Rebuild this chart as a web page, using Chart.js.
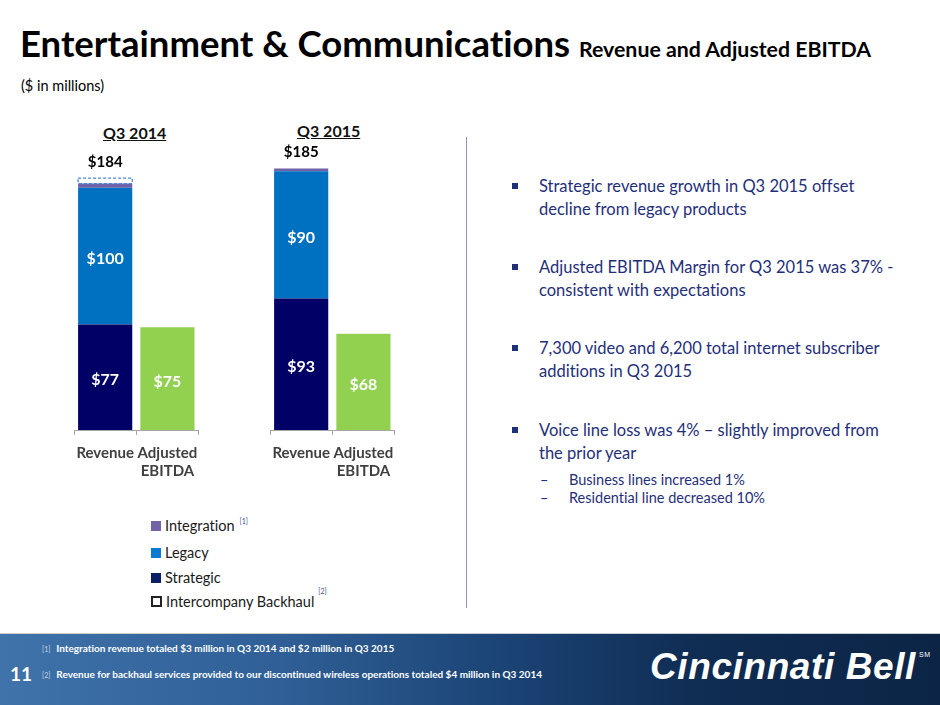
<!DOCTYPE html>
<html>
<head>
<meta charset="utf-8">
<script src="https://cdn.jsdelivr.net/npm/chart.js@4.4.0/dist/chart.umd.min.js"></script>
<style>
    body { margin: 0; width: 940px; height: 705px; overflow: hidden; background: #fff; font-family: Lato, sans-serif; position: relative; font-variant-ligatures: none; }
    .abs { position: absolute; }
    .title { left: 20px; top: 21px; font-weight: bold; font-size: 36.5px; color: #000; white-space: nowrap; }
    .title small { font-size: 21.3px; margin-left: 0px; }
    .units { left: 21px; top: 77px; font-size: 14.5px; color: #000; }
    .period { font-weight: bold; font-size: 16px; text-decoration: underline; color: #111; }
    .divider { left: 466px; top: 137px; width: 1px; height: 471px; background: #8a96b4; }
    .bullet { left: 539px; width: 390px; font-size: 16.5px; line-height: 23px; color: #1f2f7a; white-space: nowrap; }
    .bullet::before { content: ''; position: absolute; left: -27px; top: 8px; width: 6px; height: 6px; background: #1f2f7a; }
    .sub { left: 569px; font-size: 14.5px; line-height: 18px; color: #1f2f7a; white-space: nowrap; }
    .dash { position: absolute; left: -29px; }
    .legend { left: 151px; font-size: 14.5px; line-height: 18px; color: #1a1a1a; white-space: nowrap; }
    .legend i { display: inline-block; width: 10px; height: 10px; margin-right: 4px; }
    .legend sup { font-size: 7px; line-height: 0; vertical-align: baseline; position: relative; margin-left: 5px; color: #3a4f8a; }
    .footer { left: 0; top: 633px; width: 940px; height: 72px; border-top: 1px solid #c9cdd3;
        background: linear-gradient(90deg, #3f73aa 0%, #2f5f96 30%, #1a4273 55%, #0f2c52 75%, #0c2546 100%); }
    .foot { color: #fff; font-weight: bold; font-size: 10px; white-space: nowrap; }
    .foot span { font-size: 7px; color: #c8d4e6; font-weight: normal; margin-right: 6px; }
    .logo { left: 650px; top: 646px; color: #fff; font-family: 'Liberation Sans', Arial, sans-serif; font-weight: bold; font-style: italic; font-size: 37px; letter-spacing: 0.6px; white-space: nowrap; }
    .logo sup { font-size: 7px; font-style: normal; font-weight: normal; vertical-align: 22px; margin-left: 3px; }
</style>
</head>
<body>

<div class="abs title">Entertainment &amp; Communications <small>Revenue and Adjusted EBITDA</small></div>
<div class="abs units">($ in millions)</div>

<div class="abs period" style="left:103px; top:123px;">Q3 2014</div>
<div class="abs period" style="left:297px; top:121px;">Q3 2015</div>

<canvas id="chart2014" class="abs" style="left:67px; top:130px;" width="140" height="359"></canvas>
<canvas id="chart2015" class="abs" style="left:263px; top:130px;" width="140" height="359"></canvas>

<div class="abs legend" style="top:517px;"><i style="background:#7463a6"></i>Integration<sup style="top:-7px">[1]</sup></div>
<div class="abs legend" style="top:544px;"><i style="background:#0a7bd0"></i>Legacy</div>
<div class="abs legend" style="top:569px;"><i style="background:#0b1f66"></i>Strategic</div>
<div class="abs legend" style="top:593px;"><i style="border:2px dashed #222; width:7px; height:7px;"></i>Intercompany Backhaul<sup style="top:-13px; margin-left:4px">[2]</sup></div>

<div class="abs divider"></div>

<div class="abs bullet" style="top:175px;">Strategic revenue growth in Q3 2015 offset<br>decline from legacy products</div>
<div class="abs bullet" style="top:256px;">Adjusted EBITDA Margin for Q3 2015 was 37% -<br>consistent with expectations</div>
<div class="abs bullet" style="top:337px;">7,300 video and 6,200 total internet subscriber<br>additions in Q3 2015</div>
<div class="abs bullet" style="top:419px;">Voice line loss was 4% – slightly improved from<br>the prior year</div>
<div class="abs sub" style="top:471px;"><span class="dash">–</span>Business lines increased 1%</div>
<div class="abs sub" style="top:489px;"><span class="dash">–</span>Residential line decreased 10%</div>

<div class="abs footer"></div>
<div class="abs foot" style="left:42px; top:642px;"><span>[1]</span>Integration revenue totaled $3 million in Q3 2014 and $2 million in Q3 2015</div>
<div class="abs foot" style="left:42px; top:668px;"><span>[2]</span>Revenue for backhaul services provided to our discontinued wireless operations totaled $4 million in Q3 2014</div>
<div class="abs" style="left:10px; top:662px; color:#fff; font-weight:bold; font-size:19px;">11</div>
<div class="abs logo">Cincinnati Bell<sup>SM</sup></div>

<script>
// --- Data ---
const categories = ['Revenue', ['Adjusted', 'EBITDA']];

const strategic2014 = [77, null];
const legacy2014 = [100, null];
const integration2014 = [3, null];
const backhaul2014 = [4, null];
const ebitda2014 = [null, 75];

const strategic2015 = [93, null];
const legacy2015 = [90, null];
const integration2015 = [2, null];
const backhaul2015 = [null, null];
const ebitda2015 = [null, 68];

// --- Colors ---
const COLOR_STRATEGIC = '#000066';
const COLOR_LEGACY = '#0070c0';
const COLOR_INTEGRATION = '#7060a8';
const COLOR_EBITDA = '#92d050';
const COLOR_BACKHAUL = '#4a86d8';

Chart.defaults.font.family = "Lato, sans-serif";

// value labels, totals and the dashed backhaul outline
const barLabels = {
    id: 'barLabels',
    afterDatasetsDraw(chart) {
        const { ctx } = chart;
        ctx.save();
        ctx.textAlign = 'center';
        ctx.textBaseline = 'middle';

        let total = 0, topY = Infinity, topX = 0;

        chart.data.datasets.forEach((ds, i) => {
            const meta = chart.getDatasetMeta(i);
            meta.data.forEach((bar, j) => {
                const v = ds.data[j];
                if (v == null) return;
                if (ds.revenue) {
                    total += v;
                    if (bar.y < topY) { topY = bar.y; topX = bar.x; }
                }
                if (ds.dashed) {
                    ctx.setLineDash([3, 2]);
                    ctx.strokeStyle = COLOR_BACKHAUL;
                    ctx.lineWidth = 1.3;
                    ctx.strokeRect(bar.x - bar.width / 2, bar.y, bar.width, bar.base - bar.y);
                    ctx.setLineDash([]);
                }
                if (ds.showValue) {
                    ctx.font = 'bold 16px Lato';
                    ctx.fillStyle = '#fff';
                    ctx.fillText('$' + v, bar.x, (bar.y + bar.base) / 2 + 3);
                }
            });
        });

        if (total) {
            ctx.font = 'bold 15px Lato';
            ctx.fillStyle = '#000';
            ctx.fillText('$' + total, topX, topY - 16);
        }
        ctx.restore();
    }
};

function makeChart(id, strategic, legacy, integration, backhaul, ebitda, yMax) {
    return new Chart(document.getElementById(id), {
        type: 'bar',
        data: {
            labels: categories,
            datasets: [
                { label: 'Strategic', data: strategic, backgroundColor: COLOR_STRATEGIC, revenue: true, showValue: true },
                { label: 'Legacy', data: legacy, backgroundColor: COLOR_LEGACY, revenue: true, showValue: true },
                { label: 'Integration', data: integration, backgroundColor: COLOR_INTEGRATION, revenue: true },
                { label: 'Intercompany Backhaul', data: backhaul, backgroundColor: 'rgba(255,255,255,0)', revenue: true, dashed: true },
                { label: 'Adjusted EBITDA', data: ebitda, backgroundColor: COLOR_EBITDA, showValue: true }
            ]
        },
        options: {
            responsive: false,
            animation: false,
            barPercentage: 0.87,
            categoryPercentage: 1,
            layout: { padding: { left: 5, right: 5, top: 20, bottom: 0 } },
            plugins: {
                legend: { display: false },
                tooltip: { enabled: false }
            },
            scales: {
                x: {
                    stacked: true,
                    grid: { display: true, drawOnChartArea: false, drawTicks: true, tickLength: 5, tickColor: '#a6a6a6', offset: true },
                    border: { display: true, color: '#a6a6a6' },
                    ticks: {
                        color: '#404040',
                        font: { size: 15, weight: 'bold' },
                        maxRotation: 0,
                        minRotation: 0,
                        autoSkip: false,
                        padding: 9
                    }
                },
                y: {
                    stacked: true,
                    display: false,
                    min: 0,
                    max: yMax
                }
            }
        },
        plugins: [barLabels]
    });
}

makeChart('chart2014', strategic2014, legacy2014, integration2014, backhaul2014, ebitda2014, 204.5);
makeChart('chart2015', strategic2015, legacy2015, integration2015, backhaul2015, ebitda2015, 198);
</script>
</body>
</html>
